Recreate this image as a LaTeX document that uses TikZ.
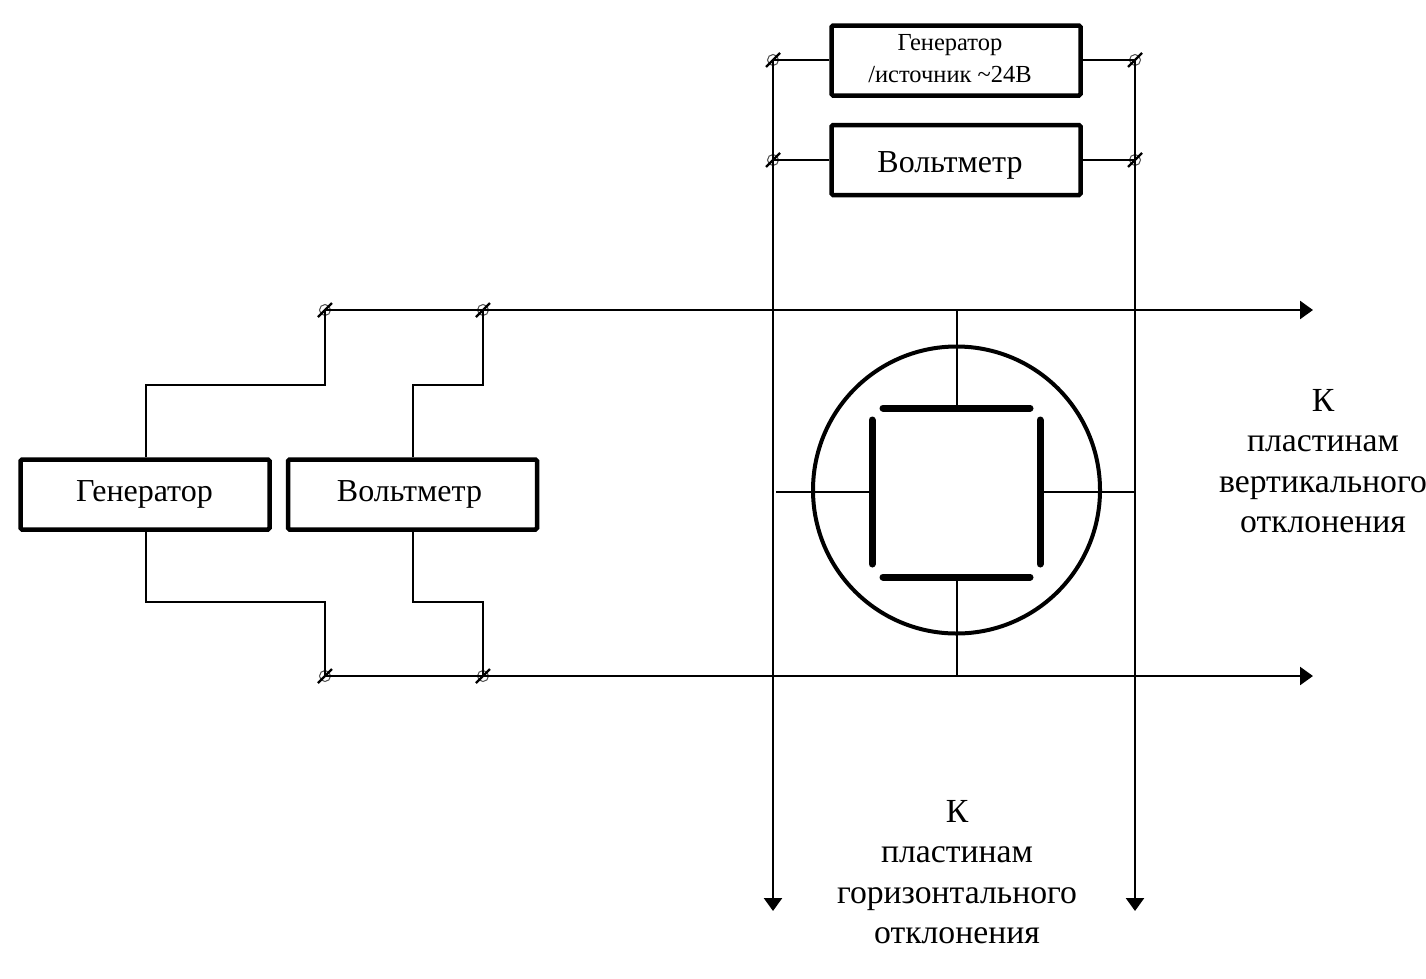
\documentclass[tikz,border=0pt]{standalone}
\usepackage{fontspec}
\setmainfont{Liberation Serif}
\usetikzlibrary{arrows.meta}
\tikzset{
  block/.style={draw,line width=4.5pt,rounded corners=1.5pt,minimum width=249pt,minimum height=70pt,inner sep=0pt,font=\fontsize{32}{38}\selectfont},
  wire/.style={line width=2pt},
  longwire/.style={line width=2.5pt,-{Triangle[length=13pt,width=18pt]}},
  plate/.style={line width=7pt,line cap=round},
  terminal/.style={circle,draw=black!70,line width=1pt,minimum size=11pt,inner sep=0pt},
  slash/.style={line width=2.2pt},
  caption/.style={align=center,font=\fontsize{33.7}{40.5}\selectfont}
}
\begin{document}
\begin{tikzpicture}[x=1pt,y=-1pt]
  \useasboundingbox (0,0) rectangle (1426,978);
  % blocks
  \node[block] (genleft) at (145,494.5) {};
  \node[font=\fontsize{32}{38}\selectfont] (genlefttext) at (144.5,494) {Генератор};
  \node[block] (voltleft) at (412.5,494.5) {};
  \node[font=\fontsize{32}{38}\selectfont] (voltlefttext) at (409.5,494) {Вольтметр};
  \node[block] (gentop) at (956,60.5) {};
  \node[align=center,font=\fontsize{24.5}{32}\selectfont] (gentoptext) at (950,59) {Генератор\\/источник \textasciitilde 24В};
  \node[block] (volttop) at (956,160) {};
  \node[font=\fontsize{32}{38}\selectfont] (volttoptext) at (950,165) {Вольтметр};
  % terminals
  \foreach \name/\x/\y in {ta/773/60,tb/1135/60,tc/773/160,td/1135/160,te/325/310,tf/483/310,tg/325/676,th/483/676}{
    \node[terminal] (\name) at (\x,\y) {};
    \draw[slash] (\x-7,\y+7)--(\x+7,\y-7);
  }
  % free ends
  \coordinate (enda) at (773,911);
  \coordinate (endb) at (1135,911);
  \coordinate (endc) at (1313,310);
  \coordinate (endd) at (1313,676);
  \coordinate (kna) at (325,385);
  \coordinate (knb) at (483,385);
  \coordinate (knc) at (325,602);
  \coordinate (knd) at (483,602);
  % wires
  \draw[wire](gentop.west|-ta)--(ta.center);
  \draw[wire](gentop.east|-tb)--(tb.center);
  \draw[wire](volttop.west|-tc)--(tc.center);
  \draw[wire](volttop.east|-td)--(td.center);
  \draw[longwire](ta.center)--(enda);
  \draw[longwire](tb.center)--(endb);
  \draw[longwire](te.center)--(endc);
  \draw[longwire](tg.center)--(endd);
  \draw[wire]([xshift=1pt]genleft.north)|-(kna)--(te.center);
  \draw[wire](voltleft.north)|-(knb)--(tf.center);
  \draw[wire]([xshift=1pt]genleft.south)|-(knc)--(tg.center);
  \draw[wire](voltleft.south)|-(knd)--(th.center);
  % tube
  \node[circle,draw,line width=4pt,minimum size=287pt,inner sep=0pt] (tube) at (956.5,490) {};
  \coordinate (pta) at (957,408);
  \coordinate (ptb) at (957,577);
  \coordinate (ptc) at (872,492);
  \coordinate (ptd) at (1040,492);
  \draw[plate](883,408)--(1030,408);
  \draw[plate](883,577)--(1030,577);
  \draw[plate](872,420)--(872,564);
  \draw[plate](1040,420)--(1040,564);
  \draw[wire](957,311)--(pta);
  \draw[wire](ptb)--(957,676);
  \draw[wire](776,492)--(ptc);
  \draw[wire](ptd)--(1135,492);
  % captions
  \node[caption] (capright) at (1323,461) {К\\пластинам\\вертикального\\отклонения};
  \node[caption] (capbottom) at (957,872) {К\\пластинам\\горизонтального\\отклонения};
\end{tikzpicture}
\end{document}
